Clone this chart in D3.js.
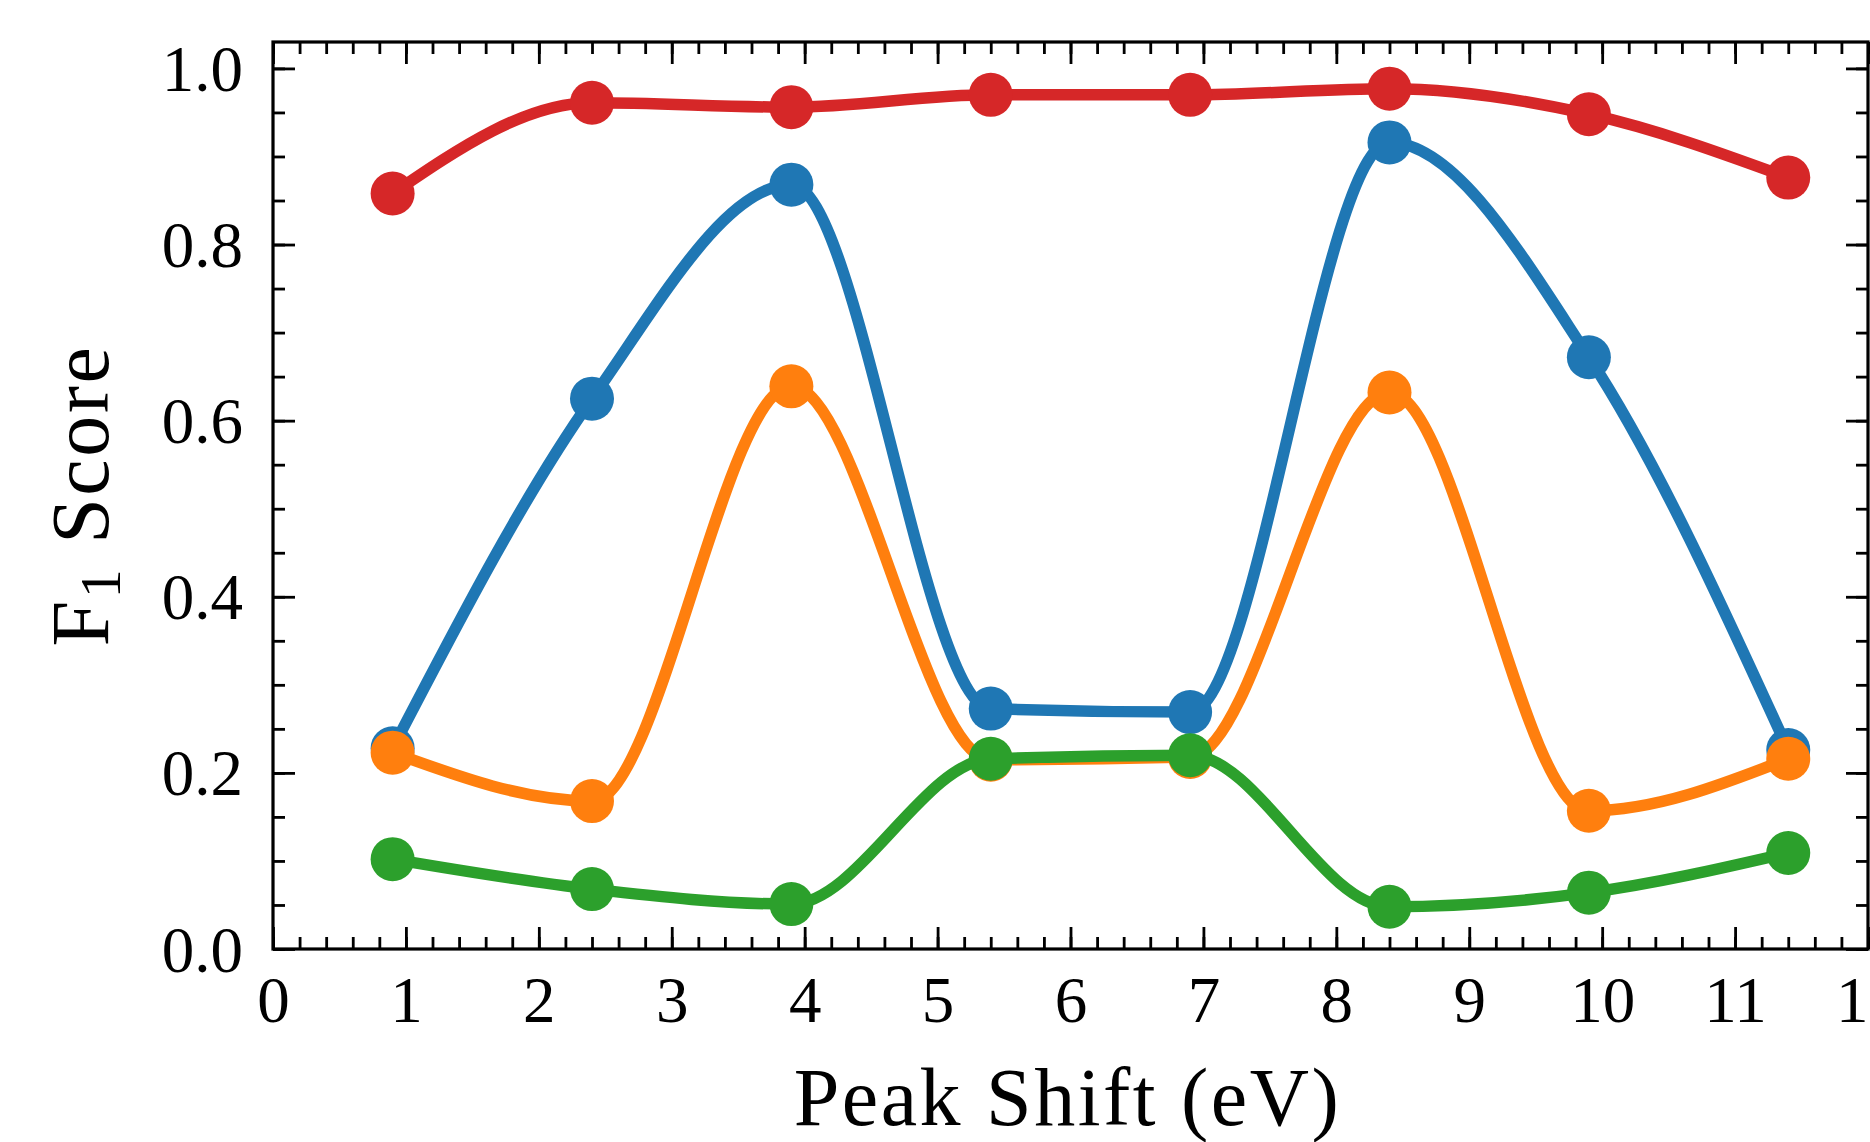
<!DOCTYPE html>
<html>
<head>
<meta charset="utf-8">
<script src="https://cdn.jsdelivr.net/npm/d3@7"></script>
<style>
  html, body { margin: 0; padding: 0; background: #fff; }
  svg { display: block; }
  text { font-family: "Liberation Serif", "DejaVu Serif", serif; fill: #000; }
</style>
</head>
<body>
<svg id="chart" width="1870" height="1142"></svg>
<script>
// ---- data ----
const peakShift = [0.9, 2.4, 3.9, 5.4, 6.9, 8.4, 9.9, 11.4];
const seriesBlue   = [0.228, 0.625, 0.868, 0.273, 0.269, 0.916, 0.672, 0.226];
const seriesOrange = [0.223, 0.168, 0.639, 0.215, 0.218, 0.632, 0.157, 0.216];
const seriesGreen  = [0.102, 0.068, 0.051, 0.216, 0.220, 0.048, 0.064, 0.109];
const seriesRed    = [0.858, 0.961, 0.956, 0.970, 0.970, 0.977, 0.948, 0.876];
const xTickLabels = [0, 1, 2, 3, 4, 5, 6, 7, 8, 9, 10, 11, 12];
const yTickLabels = [0.0, 0.2, 0.4, 0.6, 0.8, 1.0];
const xLabel = "Peak Shift (eV)";

const seriesList = [
  { values: seriesBlue,   color: "#1f77b4" },
  { values: seriesOrange, color: "#ff7f0e" },
  { values: seriesGreen,  color: "#2ca02c" },
  { values: seriesRed,    color: "#d62728" }
];

// ---- layout ----
const L = 273, R = 1868, T = 42, B = 949;
const svg = d3.select("#chart");

const x = d3.scaleLinear().domain([0, 12]).range([L, R]);
const y = d3.scaleLinear().domain([0, 1.03]).range([B, T]);

const xMinor = d3.range(0, 12.0001, 0.2).map(v => +v.toFixed(2));
const yMinor = d3.range(0, 1.0301, 0.05).map(v => +v.toFixed(2));

const MAJ = 22, MIN = 12, TW = 2.8;

function styleAxis(g) {
  g.select(".domain").remove();
  g.selectAll(".tick line").attr("stroke", "#000").attr("stroke-width", TW);
}

// minor ticks (all sides)
svg.append("g").attr("transform", `translate(0,${B})`)
  .call(d3.axisBottom(x).tickValues(xMinor).tickSize(-MIN).tickFormat(""))
  .call(styleAxis);
svg.append("g").attr("transform", `translate(0,${T})`)
  .call(d3.axisTop(x).tickValues(xMinor).tickSize(-MIN).tickFormat(""))
  .call(styleAxis);
svg.append("g").attr("transform", `translate(${L},0)`)
  .call(d3.axisLeft(y).tickValues(yMinor).tickSize(-MIN).tickFormat(""))
  .call(styleAxis);
svg.append("g").attr("transform", `translate(${R},0)`)
  .call(d3.axisRight(y).tickValues(yMinor).tickSize(-MIN).tickFormat(""))
  .call(styleAxis);

// major ticks with labels
const xAxisG = svg.append("g").attr("transform", `translate(0,${B})`)
  .call(d3.axisBottom(x).tickValues(xTickLabels).tickSize(-MAJ).tickPadding(0).tickFormat(d3.format("d")))
  .call(styleAxis);
xAxisG.selectAll(".tick text")
  .attr("y", 73).attr("dy", null)
  .attr("font-family", "Liberation Serif, DejaVu Serif, serif")
  .attr("font-size", 65).attr("fill", "#000");

svg.append("g").attr("transform", `translate(0,${T})`)
  .call(d3.axisTop(x).tickValues(xTickLabels).tickSize(-MAJ).tickFormat(""))
  .call(styleAxis);

const yAxisG = svg.append("g").attr("transform", `translate(${L},0)`)
  .call(d3.axisLeft(y).tickValues(yTickLabels).tickSize(-MAJ).tickFormat(d3.format(".1f")))
  .call(styleAxis);
yAxisG.selectAll(".tick text")
  .attr("x", -30).attr("dy", null).attr("y", 22)
  .attr("font-family", "Liberation Serif, DejaVu Serif, serif")
  .attr("font-size", 65).attr("fill", "#000");

svg.append("g").attr("transform", `translate(${R},0)`)
  .call(d3.axisRight(y).tickValues(yTickLabels).tickSize(-MAJ).tickFormat(""))
  .call(styleAxis);

// ---- series ----
const line = d3.line()
  .x(d => x(d[0]))
  .y(d => y(d[1]))
  .curve(d3.curveMonotoneX);

seriesList.forEach(s => {
  const pts = peakShift.map((px, i) => [px, s.values[i]]);
  const g = svg.append("g");
  g.append("path")
    .attr("d", line(pts))
    .attr("fill", "none")
    .attr("stroke", s.color)
    .attr("stroke-width", 11.5)
    .attr("stroke-linejoin", "round")
    .attr("stroke-linecap", "round");
  g.selectAll("circle").data(pts).join("circle")
    .attr("cx", d => x(d[0]))
    .attr("cy", d => y(d[1]))
    .attr("r", 22)
    .attr("fill", s.color);
});

// ---- frame ----
svg.append("rect")
  .attr("x", L).attr("y", T)
  .attr("width", R - L).attr("height", B - T)
  .attr("fill", "none").attr("stroke", "#000").attr("stroke-width", 3.2);

// ---- axis labels ----
svg.append("text")
  .attr("x", (797 + 1338) / 2).attr("y", 1125)
  .attr("text-anchor", "middle")
  .attr("font-size", 82)
  .attr("letter-spacing", 2.5)
  .text(xLabel);

const yl = svg.append("text")
  .attr("transform", `translate(108,${(T + B) / 2}) rotate(-90)`)
  .attr("text-anchor", "middle")
  .attr("font-size", 82)
  .attr("letter-spacing", 2.5);
yl.append("tspan").text("F");
yl.append("tspan").attr("font-size", 58).attr("dy", 12).text("1");
yl.append("tspan").attr("dy", -12).text("\u00a0Score");
</script>
</body>
</html>
